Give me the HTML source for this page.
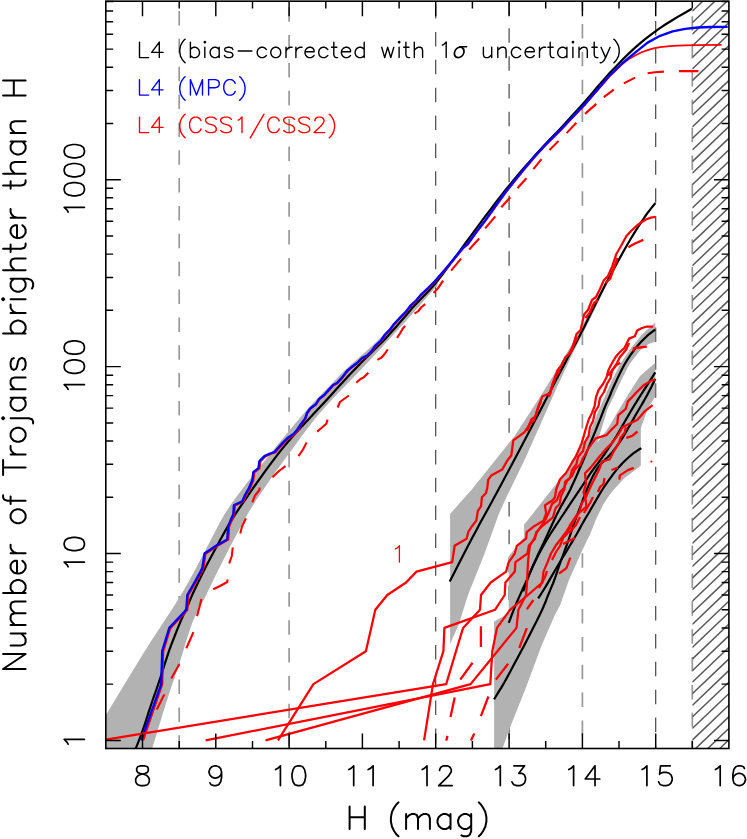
<!DOCTYPE html>
<html><head><meta charset="utf-8"><title>Trojans cumulative H distribution</title>
<style>html,body{margin:0;padding:0;background:#fff;font-family:"Liberation Sans",sans-serif}svg{display:block}</style></head><body>
<svg width="747" height="839" viewBox="0 0 747 839">
<rect width="747" height="839" fill="#fff"/>
<defs><clipPath id="pc"><rect x="105.8" y="1.2" width="623.1" height="747.3"/></clipPath>
<clipPath id="hc"><rect x="692.3" y="1.2" width="36.7" height="747.3"/></clipPath></defs>
<line x1="179.2" y1="1.2" x2="179.2" y2="748.5" stroke="#999" stroke-width="1.7" stroke-dasharray="14.5 13.36" stroke-dashoffset="18.12"/>
<line x1="289.1" y1="1.2" x2="289.1" y2="748.5" stroke="#999" stroke-width="1.7" stroke-dasharray="14.5 13.36" stroke-dashoffset="21.82"/>
<line x1="692.3" y1="1.2" x2="692.3" y2="748.5" stroke="#999" stroke-width="1.7" stroke-dasharray="14.5 13.36" stroke-dashoffset="12.80"/>
<line x1="435.7" y1="1.2" x2="435.7" y2="748.5" stroke="#404040" stroke-width="1.15" stroke-dasharray="14.5 13.36" stroke-dashoffset="24.94"/>
<line x1="509.1" y1="1.2" x2="509.1" y2="748.5" stroke="#404040" stroke-width="1.15" stroke-dasharray="14.5 13.36" stroke-dashoffset="0.78"/>
<line x1="582.4" y1="1.2" x2="582.4" y2="748.5" stroke="#999" stroke-width="1.7" stroke-dasharray="14.5 13.36" stroke-dashoffset="5.08"/>
<line x1="655.7" y1="1.2" x2="655.7" y2="748.5" stroke="#404040" stroke-width="1.15" stroke-dasharray="14.5 13.36" stroke-dashoffset="8.04"/>
<g clip-path="url(#pc)" fill="#b2b2b2" stroke="none">
<path d="M100 724.5 L100.4 724 L100.7 723.5 L102.2 721.1 L106 714.9 L113 703.3 L122.5 687.6 L132.9 670.4 L143 654 L152.8 638.6 L163 623 L172.8 607.9 L181.5 594 L188.7 581.5 L195 570 L200.6 559.2 L206 549 L211.1 539.3 L215.7 530.4 L220.2 521.8 L225 513.6 L230.2 505.6 L235.5 498.1 L241 490.7 L246.4 483.6 L251.8 476.7 L257.1 470 L262.5 463.4 L267.9 456.8 L273.3 450.1 L278.6 443.5 L284 436.9 L289.3 430.5 L294.6 424.2 L299.8 417.9 L305.1 411.9 L310.2 406.1 L315.4 400.5 L320.6 395.2 L325.6 390.1 L330.2 385.4 L334.1 381.2 L337.6 377.5 L341 373.9 L345 370 L349.7 365.7 L354.8 361.2 L360.1 356.6 L365.3 352 L370.3 347.4 L375.3 342.8 L380.2 338 L385.2 333 L390 327.9 L394.7 322.7 L399.7 317.2 L405.5 311 L413.1 303.3 L422 294.4 L430.3 286.2 L436 280.5 L438 284.5 L432.3 291 L424.3 300.3 L414.9 310.9 L405.5 321.5 L395.9 332.1 L385.6 343.3 L375.2 354.5 L365.3 365 L355.8 374.9 L346.5 384.5 L337.8 393.5 L330.2 401.5 L324.2 408.2 L319.3 413.8 L314.9 419.1 L310.2 425 L305 431.8 L299.6 439 L294.4 446.3 L289.3 453.2 L284.6 459.6 L280.1 465.7 L275.7 471.8 L271.1 478.3 L266.3 485.2 L261.4 492.4 L256.5 499.7 L251.8 507.2 L247.3 514.8 L243 522.6 L238.7 530.5 L234.5 538.4 L230.2 546.5 L226 554.8 L221.9 562.9 L218 570.6 L214.5 577.8 L211.2 584.5 L208.1 591.1 L205 597.5 L201.9 603.5 L198.8 609.1 L195.7 615 L192.6 622.1 L189.6 630.6 L186.6 640.1 L183.5 650.2 L180.3 660.3 L176.9 670.5 L173.4 680.9 L169.8 691.5 L166.3 702.4 L162.5 714.6 L158.5 727.7 L154.9 739.7 L152.2 748.6 L151.9 753.4 L153.3 755.2 L153.6 755.6 L150 756 L139.7 756.5 L124.9 756.5 L110.1 756.2 L100 756Z"/>
<path d="M450.1 514.1 L464.1 498.1 L471.4 490 L490.2 466.5 L514.3 436.4 L540.4 396.3 L560.5 364.1 L576.5 336 L596 300 L615 265 L615 268 L597 305 L580.6 338 L570.5 358.1 L556.5 388.2 L540.4 424.4 L524.3 460.5 L507 496 L498.8 514.1 L484.3 554.3 L468.2 594.5 L458.6 625 L450.1 644Z"/>
<path d="M494.1 756 L494.1 621.5 L508.7 613.3 L508.7 556.2 L524.1 537 L524.1 524.8 L543.5 500 L557 483 L569.5 467 L582.5 444 L590.2 432 L597.8 412.5 L604.6 397 L611.2 382 L620 364.3 L631 348 L642 334.5 L655.3 322.5 L655.3 341.8 L650 343.5 L645 346 L640.4 350 L629.1 364.8 L619 385 L614.5 395 L607.5 409 L601 430.4 L597.3 442.7 L608.6 427.2 L618.2 411.1 L627.9 395 L640 376 L655.3 362.7 L655.3 396.5 L648 408 L640.8 428.2 L640.8 465.8 L632.2 472.2 L624 478.5 L611.2 492.5 L603.7 503.7 L596.2 518.7 L590.6 533 L581 553 L569 580 L560 605.6 L554.9 615 L541.8 645 L525 690 L510 727.4 L502.5 748.6 L501 756Z"/>
</g>
<g clip-path="url(#hc)" stroke="#5a5a5a" stroke-width="1.5" fill="none">
<path d="M692.3 809.5 L730 773.6M692.3 798 L730 762M692.3 786.4 L730 750.4M692.3 774.8 L730 738.8M692.3 763.2 L730 727.3M692.3 751.7 L730 715.7M692.3 740.1 L730 704.1M692.3 728.5 L730 692.6M692.3 717 L730 681M692.3 705.4 L730 669.4M692.3 693.8 L730 657.9M692.3 682.2 L730 646.3M692.3 670.7 L730 634.7M692.3 659.1 L730 623.1M692.3 647.5 L730 611.6M692.3 636 L730 600M692.3 624.4 L730 588.4M692.3 612.8 L730 576.9M692.3 601.3 L730 565.3M692.3 589.7 L730 553.7M692.3 578.1 L730 542.2M692.3 566.5 L730 530.6M692.3 555 L730 519M692.3 543.4 L730 507.4M692.3 531.8 L730 495.9M692.3 520.3 L730 484.3M692.3 508.7 L730 472.7M692.3 497.1 L730 461.2M692.3 485.6 L730 449.6M692.3 474 L730 438M692.3 462.4 L730 426.5M692.3 450.9 L730 414.9M692.3 439.3 L730 403.3M692.3 427.7 L730 391.7M692.3 416.1 L730 380.2M692.3 404.6 L730 368.6M692.3 393 L730 357M692.3 381.4 L730 345.5M692.3 369.9 L730 333.9M692.3 358.3 L730 322.3M692.3 346.7 L730 310.8M692.3 335.2 L730 299.2M692.3 323.6 L730 287.6M692.3 312 L730 276M692.3 300.4 L730 264.5M692.3 288.9 L730 252.9M692.3 277.3 L730 241.3M692.3 265.7 L730 229.8M692.3 254.2 L730 218.2M692.3 242.6 L730 206.6M692.3 231 L730 195.1M692.3 219.5 L730 183.5M692.3 207.9 L730 171.9M692.3 196.3 L730 160.3M692.3 184.7 L730 148.8M692.3 173.2 L730 137.2M692.3 161.6 L730 125.6M692.3 150 L730 114.1M692.3 138.5 L730 102.5M692.3 126.9 L730 90.9M692.3 115.3 L730 79.4M692.3 103.8 L730 67.8M692.3 92.2 L730 56.2M692.3 80.6 L730 44.6M692.3 69 L730 33.1M692.3 57.5 L730 21.5M692.3 45.9 L730 9.9M692.3 34.3 L730 -1.6M692.3 22.8 L730 -13.2M692.3 11.2 L730 -24.8M692.3 -0.4 L730 -36.3M692.3 -12 L730 -47.9M692.3 -23.5 L730 -59.5M692.3 -35.1 L730 -71.1"/></g>
<g clip-path="url(#pc)">
<path d="M133.5 754 L133.8 753.3 L134.2 752.4 L134.8 751 L135.7 748.6 L137.1 745.2 L138.8 740.9 L140.7 735.9 L142.6 730.6 L144.6 724.8 L146.7 718.3 L148.8 711.6 L151 705 L153.2 698.5 L155.6 691.9 L157.9 685.2 L160.2 678.4 L162.4 671.5 L164.6 664.4 L166.9 657.3 L169.3 650.2 L172 642.9 L174.9 635.5 L177.7 628.4 L180.3 622.1 L182.6 616.8 L184.7 612.2 L186.6 608.1 L188.4 604.1 L189.8 600.7 L191 597.9 L192.3 594.7 L194.5 590 L197.6 583.5 L201.5 575.6 L205.7 567.1 L210.2 558.5 L214.9 549.7 L219.9 540.4 L225.1 531.1 L230.2 522.4 L235.2 514.4 L240.2 506.8 L245.3 499.5 L250.3 492.2 L255.3 485 L260.4 477.8 L265.4 470.9 L270.4 464.1 L275.1 457.9 L279.5 452.1 L284.4 446.1 L290.5 439 L298.5 430.1 L307.9 420 L317.2 410.1 L325.2 401.5 L331.2 394.9 L336 389.6 L340.4 384.7 L345 379.7 L350 374.3 L355.1 369 L360.2 363.7 L365.3 358.5 L370.3 353.6 L375.3 348.8 L380.2 344 L385.2 338.9 L390.5 333.1 L396 326.9 L401.2 320.9 L405.5 316 L408.3 312.8 L410 310.7 L411.7 308.6 L414.6 305.4 L418.9 301 L424 295.8 L429.8 289.8 L436 282.7 L443 273.8 L450.7 263.4 L458.4 252.8 L465.2 243.5 L470.8 235.9 L475.8 229.1 L480.4 222.8 L485.2 216.4 L490.2 209.8 L495.2 203.2 L500.3 196.7 L505.3 190.3 L510.3 184.1 L515.4 178 L520.4 172 L525.4 166.2 L530.6 160.4 L535.8 154.6 L540.9 149.1 L545.5 144.1 L549.3 140.1 L552.4 136.8 L555.8 133.4 L560 128.9 L565.5 122.9 L571.8 116 L578.5 108.7 L585 101.4 L591.3 94.2 L597.5 86.8 L603.8 79.6 L610.1 72.6 L616.5 65.9 L622.9 59.3 L629.2 53.1 L635.1 47.6 L640.6 42.8 L645.7 38.6 L650.7 34.8 L655.4 31.3 L659.9 28.1 L664.1 25.3 L668.2 22.7 L672.6 20 L677.7 16.9 L683.3 13.7 L688.4 10.8 L691.9 8.8" fill="none" stroke="#000" stroke-width="2.2" stroke-linejoin="round" />
<path d="M143.2 740.4 L162.4 684.5 L163.4 651.6 L170.5 628.3 L187.5 610.2 L188.5 595.4 L195.7 582.9 L201.7 572 L203.5 568.4 L204.5 562.5 L205.7 553.9 L217.2 546.2 L228.4 539.8 L229 532.6 L229.4 526.8 L231.7 521 L234.5 514.7 L235.1 505.7 L243.5 501.7 L246.2 495.4 L250.2 488.4 L253.5 480.6 L254.5 472.6 L259.6 468.6 L260.6 461.5 L265.6 456.5 L271.2 453.9 L275.6 452.5 L279.2 448.4 L283.6 443.5 L288.7 438.4 L294.7 434.4 L298.2 430.4 L301.5 424.4 L305.6 419 L307.5 413.4 L310.6 408.9 L316.5 404.4 L319.5 399.4 L324.5 395.4 L328.7 390.8 L333.5 385.4 L337.5 383.4 L342.7 377.8 L347.5 371.4 L351.8 367.7 L357.5 363.4 L362.5 358.4 L367.5 355.9 L371.8 351.7 L376.5 345.4 L381.5 340.9 L385.5 334.9 L389.9 330.6 L394.5 324.4 L401 317.5 L406.5 311.9 L411.5 305.4 L416.5 300.9 L422 294.5 L428.5 288.4 L435.5 281.4 L445.5 269.9 L455.5 257.9 L463.7 247.9 L467.7 244.9 L475.5 233.9 L485.7 220.8 L495.5 206.9 L505.8 192.7 L515.5 180.4 L525.9 167.6 L535.5 156.4 L546 145 L560.5 130.6 L572.5 117.9 L585.5 104.3 L597.5 90.4 L610.5 75.5 L622.6 63.8 L628.5 59.3 L635.1 55.6 L641 52.5 L647.6 50.1 L653.5 48.3 L660.1 47.1 L672.6 45.8 L685.2 45.3 L697.7 45.1 L721.5 44.8" fill="none" stroke="#f00" stroke-width="1.75" stroke-linejoin="round" />
<path d="M143.8 739 L146.6 726.5M156.8 709.5 L160 703 L164.3 694.4M171.3 678.4 L175.5 671 L179.3 664.3M186.3 648.2 L190 640 L193.4 632.2M197 616.1 L199.5 607 L201.4 599M213.2 589.2 L220 586 L227.2 582 L227.6 579.5M229.2 563.5 L231.8 556 L232.7 547.5M240.3 533.4 L242 526.5 L245.9 518.4M252.3 502.3 L255 495.5 L259.4 490 L259.6 487.5M272.4 477.2 L279 471 L285.5 466.1M298.5 456.1 L303 449.5 L306.6 442.6M317.1 431.6 L322 427.5 L326.5 423.5 L327.6 419.6M337.6 407.5 L340 402 L344 399 L348.9 395.5M356.3 382.8 L360.5 379 L363.5 377.5 L368.3 372.8M377.4 359.9 L381.5 357.5 L385 353.5 L387.8 349.3M397 337.8 L400 333.5 L402.5 329 L405.1 325.8M414.5 313.7 L418.5 311 L421.5 307 L425.2 304.1M433.6 293 L438.1 288.1 L443.1 280.6M451.1 270.6 L461.1 258.6M469.2 249.5 L479.2 238.5M485.2 228.4 L495.3 216.4M501.3 207.3 L510.3 197.3M517.4 188.3 L526.4 178.2M533.4 169.2 L541.5 159.2M549.5 150.1 L558.5 141.1M566.6 133.1 L576.3 122.7M585 113.9 L596.3 103.9M603.8 97.1 L613.8 89.6M623.8 83.4 L635.1 77.6M647.6 73.3 L655 72.2 L663.9 71.6M678.9 71.1 L698.4 71.1" fill="none" stroke="#f00" stroke-width="2.1" stroke-linejoin="round"/>
<path d="M141.2 740.4 L161.2 684.1 L162.2 651.2 L169.3 627.9 L186.3 609.8 L187.3 595 L194.5 582.5 L200.5 571.6 L202.3 568 L203.3 562.1 L204.5 553.5 L216 545.8 L227.2 539.4 L227.8 532.2 L228.2 526.4 L230.5 520.6 L233.3 514.3 L233.9 505.3 L242.3 501.3 L245 495 L249 488 L252.3 480.2 L253.3 472.2 L258.4 468.2 L259.4 461.1 L264.4 456.1 L270 453.5 L274.4 452.1 L278 448 L282.4 443.1 L287.5 438 L293.5 434 L297 430 L301 424 L305.1 418.6 L307 413 L310.1 408.5 L316 404 L319 399 L324 395 L328.2 390.4 L333 385 L337 383 L342.2 377.4 L347 371 L351.3 367.3 L357 363 L362 358 L367 355.5 L371.3 351.3 L376 345 L381 340.5 L385 334.5 L389.4 330.2 L394 324 L400.5 317.1 L406 311.5 L411 305 L416 300.5 L421.5 294.1 L428 288 L435 281 L445 269.5 L455 257.5 L463.2 247.5 L467.2 244.5 L475 233.5 L485.2 220.4 L495 206.5 L505.3 192.3 L515 180 L525.4 167.2 L535 156 L545.5 144.6 L560 130.2 L572 117.5 L585 103.9 L597 90 L610 75.1 L622 63.5 L635.1 52.6 L647.6 42.6 L660.1 35.8 L672.6 31.3 L685.2 28.8 L697.7 27.5 L710.2 27 L727.7 26.8" fill="none" stroke="#00f" stroke-width="2.35" stroke-linejoin="round" />
<path d="M449.7 581.6 L453.1 575 L457.9 565.4 L463.3 554.9 L468.2 545.5 L472.4 537.5 L476.5 529.9 L480.4 522.6 L484.3 515.5 L487.9 509 L491.2 502.9 L494.7 496.5 L498.8 489 L503.7 479.8 L509.2 469.5 L514.9 458.8 L520.3 448.5 L525.4 438.8 L530.4 429.3 L535.4 419.8 L540.4 410.3 L545.4 400.6 L550.5 390.9 L555.5 381.1 L560.5 371.5 L565.7 361.8 L570.9 352.1 L576 342.7 L580.6 334 L584.6 326.2 L588.1 319 L591.5 312.1 L595 305 L598.6 297.8 L602.2 290.7 L606 283.3 L610.2 275.5 L615 266.7 L620.3 257.1 L625.5 247.7 L630.3 239.5 L634.5 232.6 L638.3 226.6 L641.8 221.3 L645 216.5 L648.1 212.2 L651.1 208.4 L653.6 205.3 L655.4 203.1" fill="none" stroke="#000" stroke-width="2.2" stroke-linejoin="round" />
<path d="M508.8 622.8 L510.1 619.4 L511.9 614.5 L514.1 608.8 L516.5 603 L519.2 596.9 L522.2 590.2 L525.3 583.4 L528.2 577 L530.9 570.8 L533.5 564.8 L536 559.2 L538.2 554.2 L539.9 550.6 L541.2 547.9 L542.6 545.1 L544.5 541 L547.3 534.9 L550.7 527.5 L554.2 520 L557.3 513.4 L560.1 508.1 L562.6 503.6 L565 499.4 L567.2 495.5 L569.1 491.9 L570.7 488.7 L572.1 485.5 L573.7 482.2 L575.4 478.5 L577.1 474.6 L578.7 470.8 L580.3 467.2 L581.6 464.2 L582.7 461.7 L583.9 458.9 L585.5 455 L587.7 449.7 L590.4 443.3 L593.1 436.7 L595.7 430.4 L598 424.5 L600.3 418.8 L602.4 413.3 L604.3 408.5 L606 404.4 L607.6 400.9 L609 397.8 L610.2 395 L611 392.9 L611.5 391.5 L612.2 389.9 L613.5 387 L615.7 382.3 L618.4 376.4 L621.4 370.3 L624.3 364.8 L627.1 360.1 L629.9 355.9 L632.8 351.9 L635.6 348.2 L638.5 344.7 L641.4 341.6 L644.2 338.7 L646.8 336.2 L649.3 334 L651.8 332.2 L653.8 330.7 L655.3 329.7" fill="none" stroke="#000" stroke-width="2.2" stroke-linejoin="round" />
<path d="M523.2 591.4 L524.7 587.2 L526.8 581.1 L529.4 574.2 L532.2 567.5 L535.4 560.9 L538.9 554 L542.6 547.2 L546.1 541 L549.4 535.5 L552.7 530.4 L555.8 525.7 L558.9 521 L561.8 516.5 L564.6 512.3 L567.4 508.1 L570.2 503.8 L573.2 499.3 L576.4 494.7 L579.4 490.2 L582.2 486 L584.6 482.3 L586.8 478.9 L588.9 475.7 L591 472.5 L593.2 469.4 L595.4 466.5 L597.7 463.6 L600 460.5 L602.4 457.1 L604.9 453.5 L607.4 449.9 L609.7 446.5 L611.7 443.4 L613.6 440.5 L615.4 437.7 L617.2 434.7 L619.1 431.6 L621 428.3 L622.8 425.1 L624.7 421.8 L626.5 418.6 L628.4 415.4 L630.2 412.2 L632.2 408.9 L634.1 405.7 L636.1 402.6 L638.2 399.1 L640.8 395 L644.4 389.4 L648.6 382.8 L652.6 376.6 L655.3 372.3" fill="none" stroke="#000" stroke-width="2.2" stroke-linejoin="round" />
<path d="M494 699.3 L495.8 696.5 L498.3 692.4 L501.3 687.6 L504.3 682.5 L507.4 676.9 L510.7 670.8 L514.1 664.3 L517.5 658 L520.8 651.7 L524.2 645.4 L527.5 639.1 L530.6 633 L533.6 627.1 L536.6 621.3 L539.3 615.7 L541.8 610.5 L543.9 605.7 L545.8 601.2 L547.4 596.9 L549 593 L550.4 589.6 L551.7 586.5 L553 583.5 L554.3 580 L555.8 575.9 L557.2 571.5 L558.8 566.8 L560.5 562 L562.4 556.9 L564.4 551.4 L566.4 546 L568.2 541 L569.7 536.5 L571.1 532.3 L572.4 528.4 L573.7 524.4 L575.2 520.4 L576.6 516.5 L578.1 512.7 L579.5 509 L580.8 505.6 L582 502.3 L583.1 499.1 L584.3 496 L585.5 492.9 L586.8 489.8 L588 486.9 L589.3 484 L590.5 481.2 L591.7 478.6 L593 476 L594.3 473.5 L595.7 471.2 L597.1 468.9 L598.7 466.7 L600.5 464.5 L602.7 462.1 L605.2 459.6 L607.6 457.3 L609.7 455.1 L611.2 453.4 L612.5 451.9 L613.6 450.5 L615 448.6 L616.7 446.3 L618.6 443.6 L620.6 440.8 L622.5 437.9 L624.3 434.9 L626.2 431.7 L628 428.4 L630 425 L632.1 421.4 L634.2 417.6 L636.4 413.8 L638.6 410 L640.8 406.3 L642.9 402.6 L645.1 398.8 L647.2 395 L649.4 390.7 L651.8 386 L653.9 381.7 L655.3 378.8" fill="none" stroke="#000" stroke-width="2.2" stroke-linejoin="round" />
<path d="M538.2 598.4 L539.5 596.3 L541.5 593.3 L543.7 589.7 L546.1 585.8 L548.7 581.4 L551.6 576.4 L554.5 571.3 L557.3 566.5 L559.8 562.3 L562.2 558.2 L564.6 554.4 L567 550.4 L569.5 546.3 L572 542.1 L574.4 538 L576.6 534.3 L578.4 531 L580 528.1 L581.5 525.3 L583.1 522.5 L584.7 519.6 L586.4 516.8 L588.1 514 L589.7 511.2 L591.3 508.4 L592.9 505.7 L594.5 502.9 L596.2 500 L598 496.9 L599.9 493.7 L601.8 490.5 L603.7 487.5 L605.5 484.8 L607.3 482.3 L609 479.9 L610.7 477.6 L612.3 475.3 L613.9 473.2 L615.5 471.1 L617.2 469 L619 466.9 L620.8 464.9 L622.7 463 L624.7 461 L626.8 459 L629 457 L631.2 455.1 L633.3 453.4 L635.5 451.8 L637.8 450.3 L639.9 449 L641.3 448.1" fill="none" stroke="#000" stroke-width="2.2" stroke-linejoin="round" />
<path d="M278 740.4 L313.4 684.1 L365.9 651.2 L371.2 627.9 L375.3 609.8 L387.3 595 L406.1 582.5 L416.5 571.6 L452.2 562.1 L453.5 553.5 L454.6 545.8 L466.6 538.7 L468.2 532.2 L472 526.2 L476.3 520.6 L477.9 510.9 L481.1 506.1 L481.9 497.2 L485.9 493.2 L486.7 490 L487.2 488.6 L488.2 479.6 L491.2 475.6 L502.2 469.6 L507.3 460.5 L511.3 455.5 L513.3 440.4 L524.3 432.4 L528.4 426.4 L531.4 419.4 L535.4 416.3 L538.4 406.3 L542.4 396.3 L550.4 393.3 L552.4 384.2 L557.5 370.2 L561 366 L565.5 357.1 L569 354 L572.5 347.1 L576.5 334 L580.6 330 L584.1 314.6 L588 310 L592 300 L596 297 L600.2 288.5 L604 280 L608 276 L612.2 266.4 L616.2 254.3 L621 246 L626.3 236.3 L631 231 L636.3 226.2 L641 222.5 L646.3 219.2 L651 217.6 L655.4 216.8" fill="none" stroke="#f00" stroke-width="2.25" stroke-linejoin="round" />
<path d="M105.8 739.6 L446.2 684.1 L456 651.2 L463.1 627.9 L480 609.8 L481 595 L490.7 582.5 L506.1 571.6 L508.7 562.1 L514.8 553.5 L516.8 545.8 L526.1 538.7 L526.8 532.2 L534.2 526.2 L543.5 520.6 L546.2 513.4 L544.9 505.4 L552.9 500 L555.1 497 L556 490 L559.9 479.5 L566 473 L571.9 462.7 L576 456 L581.6 443.4 L584.1 434.9 L586 428 L588.9 419 L592 413 L594.6 406.1 L596 397 L598.6 390 L603 384 L606.6 377.2 L608.2 370.7 L611 365 L615.5 357.1 L620 352 L624.3 348.2 L629.1 338.6 L634.8 336.2 L637.2 330.5 L642 328 L646.8 326.5 L652.9 326.5" fill="none" stroke="#f00" stroke-width="2.25" stroke-linejoin="round" />
<path d="M424.1 740.4 L433 684.1 L443.4 651.2 L444.4 627.9 L495 609.8 L504.7 595 L505.4 582.5 L514.8 571.6 L515.4 562.1 L527.5 553.5 L528.8 545.8 L535 538.7 L536.2 532.2 L542.2 526.2 L549 520.6 L552.9 517.4 L555.6 508 L559.6 504 L561 496 L564.5 489 L565 482 L570 478 L572 470 L576.5 464 L578 457 L583 451 L585 442 L588.5 436 L590 427 L593 421 L595 412 L598.5 406 L600 398 L604 392 L607 384 L610.5 378 L612 371 L617 363 L620 357 L626 350 L629 343" fill="none" stroke="#f00" stroke-width="2.25" stroke-linejoin="round" />
<path d="M265.5 740.4 L470.6 684.1 L497.4 651.2 L516.5 627.9 L518.4 609.8 L526.1 595 L527 582.5 L527.5 571.6 L528 562.1 L528.8 553.5 L530 545.8 L534 538.7 L537 532.2 L541 526.2 L545 520.6 L549 512 L552 504 L557 500 L560 492 L564 488 L567 481 L572 476 L575 469 L580 465 L583 458 L585 455 L588.2 448.6 L595.7 438.4 L606.4 435.2 L610.7 430.4 L617.2 424 L618.2 415.4 L625.8 408.9 L627.9 401.4 L632.2 397.1 L637.2 391.6 L643.6 385.2 L651.6 380.4 L655.3 379.9" fill="none" stroke="#f00" stroke-width="2.25" stroke-linejoin="round" />
<path d="M205.6 740.4 L490.3 684.1 L492.3 651.2 L497 627.9 L510 609.8 L528 595 L542.2 582.5 L543.5 571.6 L547.6 562.1 L551 553.5 L555.6 545.8 L561 538.7 L566 532.2 L569.5 526.2 L573 520.6 L577 514.7 L586.4 506.7 L585.7 500 L583.5 492 L586 484 L585 473.3 L590.4 467.9 L598.9 457.2 L606.4 448.6 L611.8 443.3 L618.2 434.7 L622.5 427.2 L629 424 L637.5 419.7 L645 411.1 L652.6 405.2" fill="none" stroke="#f00" stroke-width="2.25" stroke-linejoin="round" />
<path d="M552 560 L556 552 L560 546 L563 538 L567 534 L571 526 L575 519 L579 513 L582 503 L586 497 L589 490 L591.4 485 L594.7 478.6 L598.9 470.1 L602.2 461.5 L609.7 459.3 L612.9 452.9 L619.3 442.2 L620.4 437.9 L624.7 432.5 L625.8 427.2" fill="none" stroke="#f00" stroke-width="2.25" stroke-linejoin="round" />
<path d="M527 431 L530 424 L534 420.5 L537 411 L541 401M549 397 L551 389 L556 376 L560 370M567 356 L571 352 L574.5 343 L578 337M585.5 318 L589.5 313 L594 303 L598 300M605.5 283 L610 279 L614 268 L617.5 258M628.3 247.3 L635 243.5 L643.3 239.9M608.2 375.6 L613 369 L617 364.5 L620.3 363M633.2 351.4 L634 348.2 L640 347.5 L646.8 346.6M446.2 740.6 L447.5 735.9M450.5 717.1 L454.7 697.5M460.3 679.6 L472.5 662.8M480.9 646.9 L480.9 626.2M471 740.6 L474.3 733.4M480.9 716.2 L488.4 696.5M495.9 679.6 L508.1 663.7M519.3 647.8 L526.8 628.1M526.8 609.4 L533.4 600M539 588 L545 577 L547 571M558.9 573.6 L566.3 568.3 L570.3 557.6M563 544 L569 541 L575 538M569 533 L576 525 L580 517M584 513 L590 503 L593 497M598 492 L600 487 L603.5 484 L604.5 478M611.5 470 L618 467.5M619.3 479.7 L619.9 475.4 L627.9 470.1 L633.8 467.9M626.3 437.9 L632.2 435.8 L637.5 431.5" fill="none" stroke="#f00" stroke-width="2.3" stroke-linejoin="round"/>
<circle cx="651.4" cy="461.6" r="1.1" fill="#f00"/>
</g>
<rect x="105.8" y="1.2" width="623.1" height="747.3" fill="none" stroke="#000" stroke-width="1.6"/>
<path d="M142.5 1.2 v15.0 M142.5 748.5 v-15.0M179.2 1.2 v7.4 M179.2 748.5 v-7.4M215.8 1.2 v15.0 M215.8 748.5 v-15.0M252.5 1.2 v7.4 M252.5 748.5 v-7.4M289.1 1.2 v15.0 M289.1 748.5 v-15.0M325.8 1.2 v7.4 M325.8 748.5 v-7.4M362.4 1.2 v15.0 M362.4 748.5 v-15.0M399.1 1.2 v7.4 M399.1 748.5 v-7.4M435.7 1.2 v15.0 M435.7 748.5 v-15.0M472.4 1.2 v7.4 M472.4 748.5 v-7.4M509.1 1.2 v15.0 M509.1 748.5 v-15.0M545.7 1.2 v7.4 M545.7 748.5 v-7.4M582.4 1.2 v15.0 M582.4 748.5 v-15.0M619 1.2 v7.4 M619 748.5 v-7.4M655.7 1.2 v15.0 M655.7 748.5 v-15.0M692.3 1.2 v7.4 M692.3 748.5 v-7.4M105.8 740.4 h15.0 M729 740.4 h-15.0M105.8 684.1 h7.4 M729 684.1 h-7.4M105.8 651.2 h7.4 M729 651.2 h-7.4M105.8 627.9 h7.4 M729 627.9 h-7.4M105.8 609.8 h7.4 M729 609.8 h-7.4M105.8 595 h7.4 M729 595 h-7.4M105.8 582.5 h7.4 M729 582.5 h-7.4M105.8 571.6 h7.4 M729 571.6 h-7.4M105.8 562.1 h7.4 M729 562.1 h-7.4M105.8 553.5 h15.0 M729 553.5 h-15.0M105.8 497.2 h7.4 M729 497.2 h-7.4M105.8 464.3 h7.4 M729 464.3 h-7.4M105.8 441 h7.4 M729 441 h-7.4M105.8 422.9 h7.4 M729 422.9 h-7.4M105.8 408.1 h7.4 M729 408.1 h-7.4M105.8 395.6 h7.4 M729 395.6 h-7.4M105.8 384.7 h7.4 M729 384.7 h-7.4M105.8 375.2 h7.4 M729 375.2 h-7.4M105.8 366.6 h15.0 M729 366.6 h-15.0M105.8 310.3 h7.4 M729 310.3 h-7.4M105.8 277.4 h7.4 M729 277.4 h-7.4M105.8 254.1 h7.4 M729 254.1 h-7.4M105.8 236 h7.4 M729 236 h-7.4M105.8 221.2 h7.4 M729 221.2 h-7.4M105.8 208.7 h7.4 M729 208.7 h-7.4M105.8 197.8 h7.4 M729 197.8 h-7.4M105.8 188.3 h7.4 M729 188.3 h-7.4M105.8 179.7 h15.0 M729 179.7 h-15.0M105.8 123.4 h7.4 M729 123.4 h-7.4M105.8 90.5 h7.4 M729 90.5 h-7.4M105.8 67.2 h7.4 M729 67.2 h-7.4M105.8 49.1 h7.4 M729 49.1 h-7.4M105.8 34.3 h7.4 M729 34.3 h-7.4M105.8 21.8 h7.4 M729 21.8 h-7.4M105.8 10.9 h7.4 M729 10.9 h-7.4M105.8 1.4 h7.4 M729 1.4 h-7.4" stroke="#000" stroke-width="1.45" fill="none"/>
<path d="M140.6 765.8 L137.7 766.7 L136.7 768.6 L136.7 770.5 L137.7 772.4 L139.6 773.3 L143.5 774.3 L146.4 775.2 L148.3 777.1 L149.3 779 L149.3 781.8 L148.3 783.7 L147.4 784.7 L144.4 785.6 L140.6 785.6 L137.7 784.7 L136.7 783.7 L135.7 781.8 L135.7 779 L136.7 777.1 L138.6 775.2 L141.5 774.3 L145.4 773.3 L147.4 772.4 L148.3 770.5 L148.3 768.6 L147.4 766.7 L144.4 765.8 L140.6 765.8" fill="none" stroke="#000" stroke-width="1.7" stroke-linecap="round" stroke-linejoin="round"/>
<path d="M221.6 772.4 L220.7 775.2 L218.7 777.1 L215.8 778.1 L214.8 778.1 L211.9 777.1 L210 775.2 L209 772.4 L209 771.5 L210 768.6 L211.9 766.7 L214.8 765.8 L215.8 765.8 L218.7 766.7 L220.7 768.6 L221.6 772.4 L221.6 777.1 L220.7 781.8 L218.7 784.7 L215.8 785.6 L213.9 785.6 L211 784.7 L210 782.8" fill="none" stroke="#000" stroke-width="1.7" stroke-linecap="round" stroke-linejoin="round"/>
<path d="M275.5 769.6 L277.5 768.6 L280.4 765.8 L280.4 785.6M297.9 765.8 L294.9 766.7 L293 769.6 L292 774.3 L292 777.1 L293 781.8 L294.9 784.7 L297.9 785.6 L299.8 785.6 L302.7 784.7 L304.6 781.8 L305.6 777.1 L305.6 774.3 L304.6 769.6 L302.7 766.7 L299.8 765.8 L297.9 765.8" fill="none" stroke="#000" stroke-width="1.7" stroke-linecap="round" stroke-linejoin="round"/>
<path d="M348.9 769.6 L350.8 768.6 L353.7 765.8 L353.7 785.6M368.2 769.6 L370.2 768.6 L373.1 765.8 L373.1 785.6" fill="none" stroke="#000" stroke-width="1.7" stroke-linecap="round" stroke-linejoin="round"/>
<path d="M422.2 769.6 L424.1 768.6 L427 765.8 L427 785.6M439.6 770.5 L439.6 769.6 L440.6 767.7 L441.6 766.7 L443.5 765.8 L447.4 765.8 L449.3 766.7 L450.3 767.7 L451.3 769.6 L451.3 771.5 L450.3 773.3 L448.4 776.2 L438.7 785.6 L452.2 785.6" fill="none" stroke="#000" stroke-width="1.7" stroke-linecap="round" stroke-linejoin="round"/>
<path d="M495.5 769.6 L497.4 768.6 L500.3 765.8 L500.3 785.6M513.9 765.8 L524.6 765.8 L518.8 773.3 L521.7 773.3 L523.6 774.3 L524.6 775.2 L525.5 778.1 L525.5 779.9 L524.6 782.8 L522.6 784.7 L519.7 785.6 L516.8 785.6 L513.9 784.7 L512.9 783.7 L512 781.8" fill="none" stroke="#000" stroke-width="1.7" stroke-linecap="round" stroke-linejoin="round"/>
<path d="M568.8 769.6 L570.7 768.6 L573.6 765.8 L573.6 785.6M595 765.8 L585.3 779 L599.8 779M595 765.8 L595 785.6" fill="none" stroke="#000" stroke-width="1.7" stroke-linecap="round" stroke-linejoin="round"/>
<path d="M642.1 769.6 L644 768.6 L646.9 765.8 L646.9 785.6M670.2 765.8 L660.5 765.8 L659.6 774.3 L660.5 773.3 L663.4 772.4 L666.3 772.4 L669.3 773.3 L671.2 775.2 L672.2 778.1 L672.2 779.9 L671.2 782.8 L669.3 784.7 L666.3 785.6 L663.4 785.6 L660.5 784.7 L659.6 783.7 L658.6 781.8" fill="none" stroke="#000" stroke-width="1.7" stroke-linecap="round" stroke-linejoin="round"/>
<path d="M715.4 769.6 L717.3 768.6 L720.2 765.8 L720.2 785.6M744.5 768.6 L743.5 766.7 L740.6 765.8 L738.7 765.8 L735.8 766.7 L733.8 769.6 L732.9 774.3 L732.9 779 L733.8 782.8 L735.8 784.7 L738.7 785.6 L739.7 785.6 L742.6 784.7 L744.5 782.8 L745.5 779.9 L745.5 779 L744.5 776.2 L742.6 774.3 L739.7 773.3 L738.7 773.3 L735.8 774.3 L733.8 776.2 L732.9 779" fill="none" stroke="#000" stroke-width="1.7" stroke-linecap="round" stroke-linejoin="round"/>
<path d="M68.1 744.2 L67.1 742.3 L64.2 739.4 L84.4 739.4" fill="none" stroke="#000" stroke-width="1.7" stroke-linecap="round" stroke-linejoin="round"/>
<path d="M68.1 566.8 L67.1 564.9 L64.2 562.1 L84.4 562.1M64.2 544.9 L65.2 547.8 L68.1 549.7 L72.9 550.6 L75.8 550.6 L80.6 549.7 L83.4 547.8 L84.4 544.9 L84.4 543 L83.4 540.2 L80.6 538.3 L75.8 537.3 L72.9 537.3 L68.1 538.3 L65.2 540.2 L64.2 543 L64.2 544.9" fill="none" stroke="#000" stroke-width="1.7" stroke-linecap="round" stroke-linejoin="round"/>
<path d="M68.1 389.4 L67.1 387.5 L64.2 384.7 L84.4 384.7M64.2 367.6 L65.2 370.4 L68.1 372.3 L72.9 373.3 L75.8 373.3 L80.6 372.3 L83.4 370.4 L84.4 367.6 L84.4 365.6 L83.4 362.8 L80.6 360.9 L75.8 359.9 L72.9 359.9 L68.1 360.9 L65.2 362.8 L64.2 365.6 L64.2 367.6M64.2 348.5 L65.2 351.4 L68.1 353.3 L72.9 354.2 L75.8 354.2 L80.6 353.3 L83.4 351.4 L84.4 348.5 L84.4 346.6 L83.4 343.8 L80.6 341.9 L75.8 340.9 L72.9 340.9 L68.1 341.9 L65.2 343.8 L64.2 346.6 L64.2 348.5" fill="none" stroke="#000" stroke-width="1.7" stroke-linecap="round" stroke-linejoin="round"/>
<path d="M68.1 212 L67.1 210.1 L64.2 207.3 L84.4 207.3M64.2 190.2 L65.2 193 L68.1 194.9 L72.9 195.9 L75.8 195.9 L80.6 194.9 L83.4 193 L84.4 190.2 L84.4 188.3 L83.4 185.4 L80.6 183.5 L75.8 182.6 L72.9 182.6 L68.1 183.5 L65.2 185.4 L64.2 188.3 L64.2 190.2M64.2 171.1 L65.2 174 L68.1 175.9 L72.9 176.8 L75.8 176.8 L80.6 175.9 L83.4 174 L84.4 171.1 L84.4 169.2 L83.4 166.4 L80.6 164.5 L75.8 163.5 L72.9 163.5 L68.1 164.5 L65.2 166.4 L64.2 169.2 L64.2 171.1M64.2 152.1 L65.2 155 L68.1 156.9 L72.9 157.8 L75.8 157.8 L80.6 156.9 L83.4 155 L84.4 152.1 L84.4 150.2 L83.4 147.4 L80.6 145.5 L75.8 144.5 L72.9 144.5 L68.1 145.5 L65.2 147.4 L64.2 150.2 L64.2 152.1" fill="none" stroke="#000" stroke-width="1.7" stroke-linecap="round" stroke-linejoin="round"/>
<path d="M349.6 806.6 L349.6 828.9M364.8 806.6 L364.8 828.9M349.6 817.2 L364.8 817.2M398.5 802.4 L396.3 804.5 L394.1 807.7 L392 811.9 L390.9 817.2 L390.9 821.5 L392 826.8 L394.1 831 L396.3 834.2 L398.5 836.3M406.1 814.1 L406.1 828.9M406.1 818.3 L409.3 815.1 L411.5 814.1 L414.7 814.1 L416.9 815.1 L418 818.3 L418 828.9M418 818.3 L421.2 815.1 L423.4 814.1 L426.7 814.1 L428.8 815.1 L429.9 818.3 L429.9 828.9M450.5 814.1 L450.5 828.9M450.5 817.2 L448.4 815.1 L446.2 814.1 L442.9 814.1 L440.8 815.1 L438.6 817.2 L437.5 820.4 L437.5 822.5 L438.6 825.7 L440.8 827.8 L442.9 828.9 L446.2 828.9 L448.4 827.8 L450.5 825.7M471.2 814.1 L471.2 831 L470.1 834.2 L469 835.3 L466.8 836.3 L463.6 836.3 L461.4 835.3M471.2 817.2 L469 815.1 L466.8 814.1 L463.6 814.1 L461.4 815.1 L459.2 817.2 L458.1 820.4 L458.1 822.5 L459.2 825.7 L461.4 827.8 L463.6 828.9 L466.8 828.9 L469 827.8 L471.2 825.7M478.8 802.4 L480.9 804.5 L483.1 807.7 L485.3 811.9 L486.4 817.2 L486.4 821.5 L485.3 826.8 L483.1 831 L480.9 834.2 L478.8 836.3" fill="none" stroke="#000" stroke-width="2.0" stroke-linecap="round" stroke-linejoin="round"/>
<path d="M3.1 669 L25.6 669M3.1 669 L25.6 654M3.1 654 L25.6 654M10.6 645.4 L21.3 645.4 L24.5 644.4 L25.6 642.2 L25.6 639 L24.5 636.9 L21.3 633.6M10.6 633.6 L25.6 633.6M10.6 625.1 L25.6 625.1M14.9 625.1 L11.7 621.8 L10.6 619.7 L10.6 616.5 L11.7 614.3 L14.9 613.3 L25.6 613.3M14.9 613.3 L11.7 610.1 L10.6 607.9 L10.6 604.7 L11.7 602.5 L14.9 601.5 L25.6 601.5M3.1 592.9 L25.6 592.9M13.8 592.9 L11.7 590.8 L10.6 588.6 L10.6 585.4 L11.7 583.3 L13.8 581.1 L17 580 L19.2 580 L22.4 581.1 L24.5 583.3 L25.6 585.4 L25.6 588.6 L24.5 590.8 L22.4 592.9M17 573.6 L17 560.7 L14.9 560.7 L12.8 561.8 L11.7 562.9 L10.6 565 L10.6 568.2 L11.7 570.4 L13.8 572.5 L17 573.6 L19.2 573.6 L22.4 572.5 L24.5 570.4 L25.6 568.2 L25.6 565 L24.5 562.9 L22.4 560.7M10.6 553.2 L25.6 553.2M17 553.2 L13.8 552.2 L11.7 550 L10.6 547.9 L10.6 544.7M10.6 517.9 L11.7 520 L13.8 522.1 L17 523.2 L19.2 523.2 L22.4 522.1 L24.5 520 L25.6 517.9 L25.6 514.6 L24.5 512.5 L22.4 510.4 L19.2 509.3 L17 509.3 L13.8 510.4 L11.7 512.5 L10.6 514.6 L10.6 517.9M3.1 495.3 L3.1 497.5 L4.2 499.6 L7.4 500.7 L25.6 500.7M10.6 503.9 L10.6 496.4M3.1 467.5 L25.6 467.5M3.1 475 L3.1 460M10.6 454.6 L25.6 454.6M17 454.6 L13.8 453.5 L11.7 451.4 L10.6 449.3 L10.6 446M10.6 436.4 L11.7 438.5 L13.8 440.7 L17 441.7 L19.2 441.7 L22.4 440.7 L24.5 438.5 L25.6 436.4 L25.6 433.2 L24.5 431 L22.4 428.9 L19.2 427.8 L17 427.8 L13.8 428.9 L11.7 431 L10.6 433.2 L10.6 436.4M3.1 419.2 L4.2 418.2 L3.1 417.1 L2.1 418.2 L3.1 419.2M10.6 418.2 L28.8 418.2 L32 419.2 L33.1 421.4 L33.1 423.5M10.6 397.8 L25.6 397.8M13.8 397.8 L11.7 399.9 L10.6 402.1 L10.6 405.3 L11.7 407.4 L13.8 409.6 L17 410.7 L19.2 410.7 L22.4 409.6 L24.5 407.4 L25.6 405.3 L25.6 402.1 L24.5 399.9 L22.4 397.8M10.6 389.2 L25.6 389.2M14.9 389.2 L11.7 386 L10.6 383.9 L10.6 380.6 L11.7 378.5 L14.9 377.4 L25.6 377.4M13.8 358.1 L11.7 359.2 L10.6 362.4 L10.6 365.6 L11.7 368.9 L13.8 369.9 L16 368.9 L17 366.7 L18.1 361.3 L19.2 359.2 L21.3 358.1 L22.4 358.1 L24.5 359.2 L25.6 362.4 L25.6 365.6 L24.5 368.9 L22.4 369.9M3.1 333.5 L25.6 333.5M13.8 333.5 L11.7 331.3 L10.6 329.2 L10.6 326 L11.7 323.8 L13.8 321.7 L17 320.6 L19.2 320.6 L22.4 321.7 L24.5 323.8 L25.6 326 L25.6 329.2 L24.5 331.3 L22.4 333.5M10.6 313.1 L25.6 313.1M17 313.1 L13.8 312 L11.7 309.9 L10.6 307.7 L10.6 304.5M3.1 300.2 L4.2 299.2 L3.1 298.1 L2.1 299.2 L3.1 300.2M10.6 299.2 L25.6 299.2M10.6 278.8 L27.7 278.8 L31 279.9 L32 280.9 L33.1 283.1 L33.1 286.3 L32 288.5M13.8 278.8 L11.7 280.9 L10.6 283.1 L10.6 286.3 L11.7 288.5 L13.8 290.6 L17 291.7 L19.2 291.7 L22.4 290.6 L24.5 288.5 L25.6 286.3 L25.6 283.1 L24.5 280.9 L22.4 278.8M3.1 270.2 L25.6 270.2M14.9 270.2 L11.7 267 L10.6 264.9 L10.6 261.7 L11.7 259.5 L14.9 258.4 L25.6 258.4M3.1 248.8 L21.3 248.8 L24.5 247.7 L25.6 245.6 L25.6 243.4M10.6 252 L10.6 244.5M17 238.1 L17 225.2 L14.9 225.2 L12.8 226.3 L11.7 227.3 L10.6 229.5 L10.6 232.7 L11.7 234.9 L13.8 237 L17 238.1 L19.2 238.1 L22.4 237 L24.5 234.9 L25.6 232.7 L25.6 229.5 L24.5 227.3 L22.4 225.2M10.6 217.7 L25.6 217.7M17 217.7 L13.8 216.6 L11.7 214.5 L10.6 212.3 L10.6 209.1M3.1 185.5 L21.3 185.5 L24.5 184.5 L25.6 182.3 L25.6 180.2M10.6 188.8 L10.6 181.3M3.1 173.7 L25.6 173.7M14.9 173.7 L11.7 170.5 L10.6 168.4 L10.6 165.2 L11.7 163 L14.9 162 L25.6 162M10.6 141.6 L25.6 141.6M13.8 141.6 L11.7 143.7 L10.6 145.9 L10.6 149.1 L11.7 151.2 L13.8 153.4 L17 154.5 L19.2 154.5 L22.4 153.4 L24.5 151.2 L25.6 149.1 L25.6 145.9 L24.5 143.7 L22.4 141.6M10.6 133 L25.6 133M14.9 133 L11.7 129.8 L10.6 127.7 L10.6 124.4 L11.7 122.3 L14.9 121.2 L25.6 121.2M3.1 95.5 L25.6 95.5M3.1 80.5 L25.6 80.5M13.8 95.5 L13.8 80.5" fill="none" stroke="#000" stroke-width="2.0" stroke-linecap="round" stroke-linejoin="round"/>
<path d="M139.5 42.1 L139.5 57.6M139.5 57.6 L148.6 57.6M159.3 42.1 L151.7 52.4 L163.1 52.4M159.3 42.1 L159.3 57.6M185.1 39.2 L183.6 40.6 L182 42.9 L180.5 45.8 L179.8 49.5 L179.8 52.4 L180.5 56.1 L182 59.1 L183.6 61.3 L185.1 62.8M190.4 42.1 L190.4 57.6M190.4 49.5 L191.9 48 L193.4 47.3 L195.7 47.3 L197.2 48 L198.7 49.5 L199.5 51.7 L199.5 53.2 L198.7 55.4 L197.2 56.9 L195.7 57.6 L193.4 57.6 L191.9 56.9 L190.4 55.4M204.1 42.1 L204.8 42.9 L205.6 42.1 L204.8 41.4 L204.1 42.1M204.8 47.3 L204.8 57.6M219.2 47.3 L219.2 57.6M219.2 49.5 L217.7 48 L216.2 47.3 L213.9 47.3 L212.4 48 L210.9 49.5 L210.1 51.7 L210.1 53.2 L210.9 55.4 L212.4 56.9 L213.9 57.6 L216.2 57.6 L217.7 56.9 L219.2 55.4M232.9 49.5 L232.1 48 L229.9 47.3 L227.6 47.3 L225.3 48 L224.5 49.5 L225.3 51 L226.8 51.7 L230.6 52.4 L232.1 53.2 L232.9 54.7 L232.9 55.4 L232.1 56.9 L229.9 57.6 L227.6 57.6 L225.3 56.9 L224.5 55.4M238.2 51 L251.9 51M266.3 49.5 L264.8 48 L263.3 47.3 L261 47.3 L259.5 48 L257.9 49.5 L257.2 51.7 L257.2 53.2 L257.9 55.4 L259.5 56.9 L261 57.6 L263.3 57.6 L264.8 56.9 L266.3 55.4M274.6 47.3 L273.1 48 L271.6 49.5 L270.8 51.7 L270.8 53.2 L271.6 55.4 L273.1 56.9 L274.6 57.6 L276.9 57.6 L278.4 56.9 L280 55.4 L280.7 53.2 L280.7 51.7 L280 49.5 L278.4 48 L276.9 47.3 L274.6 47.3M286 47.3 L286 57.6M286 51.7 L286.8 49.5 L288.3 48 L289.8 47.3 L292.1 47.3M295.9 47.3 L295.9 57.6M295.9 51.7 L296.6 49.5 L298.2 48 L299.7 47.3 L302 47.3M305 51.7 L314.1 51.7 L314.1 50.2 L313.3 48.8 L312.6 48 L311.1 47.3 L308.8 47.3 L307.3 48 L305.8 49.5 L305 51.7 L305 53.2 L305.8 55.4 L307.3 56.9 L308.8 57.6 L311.1 57.6 L312.6 56.9 L314.1 55.4M327.8 49.5 L326.2 48 L324.7 47.3 L322.5 47.3 L320.9 48 L319.4 49.5 L318.7 51.7 L318.7 53.2 L319.4 55.4 L320.9 56.9 L322.5 57.6 L324.7 57.6 L326.2 56.9 L327.8 55.4M333.8 42.1 L333.8 54.7 L334.6 56.9 L336.1 57.6 L337.6 57.6M331.6 47.3 L336.9 47.3M341.4 51.7 L350.5 51.7 L350.5 50.2 L349.8 48.8 L349 48 L347.5 47.3 L345.2 47.3 L343.7 48 L342.2 49.5 L341.4 51.7 L341.4 53.2 L342.2 55.4 L343.7 56.9 L345.2 57.6 L347.5 57.6 L349 56.9 L350.5 55.4M364.2 42.1 L364.2 57.6M364.2 49.5 L362.7 48 L361.2 47.3 L358.9 47.3 L357.4 48 L355.9 49.5 L355.1 51.7 L355.1 53.2 L355.9 55.4 L357.4 56.9 L358.9 57.6 L361.2 57.6 L362.7 56.9 L364.2 55.4M381.7 47.3 L384.7 57.6M387.7 47.3 L384.7 57.6M387.7 47.3 L390.8 57.6M393.8 47.3 L390.8 57.6M398.4 42.1 L399.1 42.9 L399.9 42.1 L399.1 41.4 L398.4 42.1M399.1 47.3 L399.1 57.6M405.9 42.1 L405.9 54.7 L406.7 56.9 L408.2 57.6 L409.7 57.6M403.7 47.3 L409 47.3M414.3 42.1 L414.3 57.6M414.3 50.2 L416.6 48 L418.1 47.3 L420.4 47.3 L421.9 48 L422.6 50.2 L422.6 57.6M442.4 45.1 L443.9 44.3 L446.2 42.1 L446.2 57.6M483.4 47.3 L483.4 54.7 L484.1 56.9 L485.6 57.6 L487.9 57.6 L489.4 56.9 L491.7 54.7M491.7 47.3 L491.7 57.6M497.8 47.3 L497.8 57.6M497.8 50.2 L500.1 48 L501.6 47.3 L503.9 47.3 L505.4 48 L506.1 50.2 L506.1 57.6M520.6 49.5 L519 48 L517.5 47.3 L515.2 47.3 L513.7 48 L512.2 49.5 L511.4 51.7 L511.4 53.2 L512.2 55.4 L513.7 56.9 L515.2 57.6 L517.5 57.6 L519 56.9 L520.6 55.4M525.1 51.7 L534.2 51.7 L534.2 50.2 L533.5 48.8 L532.7 48 L531.2 47.3 L528.9 47.3 L527.4 48 L525.9 49.5 L525.1 51.7 L525.1 53.2 L525.9 55.4 L527.4 56.9 L528.9 57.6 L531.2 57.6 L532.7 56.9 L534.2 55.4M539.5 47.3 L539.5 57.6M539.5 51.7 L540.3 49.5 L541.8 48 L543.3 47.3 L545.6 47.3M550.2 42.1 L550.2 54.7 L550.9 56.9 L552.4 57.6 L554 57.6M547.9 47.3 L553.2 47.3M566.9 47.3 L566.9 57.6M566.9 49.5 L565.3 48 L563.8 47.3 L561.5 47.3 L560 48 L558.5 49.5 L557.7 51.7 L557.7 53.2 L558.5 55.4 L560 56.9 L561.5 57.6 L563.8 57.6 L565.3 56.9 L566.9 55.4M572.2 42.1 L572.9 42.9 L573.7 42.1 L572.9 41.4 L572.2 42.1M572.9 47.3 L572.9 57.6M579 47.3 L579 57.6M579 50.2 L581.3 48 L582.8 47.3 L585.1 47.3 L586.6 48 L587.3 50.2 L587.3 57.6M594.2 42.1 L594.2 54.7 L594.9 56.9 L596.5 57.6 L598 57.6M591.9 47.3 L597.2 47.3M601 47.3 L605.6 57.6M610.1 47.3 L605.6 57.6 L604 60.5 L602.5 62 L601 62.8 L600.2 62.8M613.9 39.2 L615.4 40.6 L616.9 42.9 L618.5 45.8 L619.2 49.5 L619.2 52.4 L618.5 56.1 L616.9 59.1 L615.4 61.3 L613.9 62.8" fill="none" stroke="#000" stroke-width="1.4" stroke-linecap="round" stroke-linejoin="round"/>
<g fill="none" stroke="#000" stroke-linecap="round"><ellipse cx="0" cy="0" rx="4.7" ry="5.25" transform="translate(459.2 52.4) skewX(-11)" stroke-width="1.7"/><path d="M459.6 46.7 L466.6 46.7" stroke-width="1.5"/></g>
<path d="M139.5 79.6 L139.5 95.1M139.5 95.1 L148.6 95.1M159.3 79.6 L151.7 89.9 L163.1 89.9M159.3 79.6 L159.3 95.1M185.1 76.7 L183.6 78.1 L182 80.4 L180.5 83.3 L179.8 87 L179.8 89.9 L180.5 93.6 L182 96.6 L183.6 98.8 L185.1 100.3M190.4 79.6 L190.4 95.1M190.4 79.6 L196.5 95.1M202.5 79.6 L196.5 95.1M202.5 79.6 L202.5 95.1M208.6 79.6 L208.6 95.1M208.6 79.6 L215.4 79.6 L217.7 80.4 L218.5 81.1 L219.2 82.6 L219.2 84.8 L218.5 86.3 L217.7 87 L215.4 87.7 L208.6 87.7M235.2 83.3 L234.4 81.8 L232.9 80.4 L231.4 79.6 L228.3 79.6 L226.8 80.4 L225.3 81.8 L224.5 83.3 L223.8 85.5 L223.8 89.2 L224.5 91.4 L225.3 92.9 L226.8 94.4 L228.3 95.1 L231.4 95.1 L232.9 94.4 L234.4 92.9 L235.2 91.4M239.7 76.7 L241.2 78.1 L242.8 80.4 L244.3 83.3 L245 87 L245 89.9 L244.3 93.6 L242.8 96.6 L241.2 98.8 L239.7 100.3" fill="none" stroke="#00f" stroke-width="1.4" stroke-linecap="round" stroke-linejoin="round"/>
<path d="M139.5 117.1 L139.5 132.6M139.5 132.6 L148.6 132.6M159.3 117.1 L151.7 127.4 L163.1 127.4M159.3 117.1 L159.3 132.6M185.1 114.2 L183.6 115.6 L182 117.9 L180.5 120.8 L179.8 124.5 L179.8 127.4 L180.5 131.1 L182 134.1 L183.6 136.3 L185.1 137.8M201 120.8 L200.3 119.3 L198.7 117.9 L197.2 117.1 L194.2 117.1 L192.7 117.9 L191.1 119.3 L190.4 120.8 L189.6 123 L189.6 126.7 L190.4 128.9 L191.1 130.4 L192.7 131.9 L194.2 132.6 L197.2 132.6 L198.7 131.9 L200.3 130.4 L201 128.9M216.2 119.3 L214.7 117.9 L212.4 117.1 L209.4 117.1 L207.1 117.9 L205.6 119.3 L205.6 120.8 L206.3 122.3 L207.1 123 L208.6 123.8 L213.2 125.2 L214.7 126 L215.4 126.7 L216.2 128.2 L216.2 130.4 L214.7 131.9 L212.4 132.6 L209.4 132.6 L207.1 131.9 L205.6 130.4M231.4 119.3 L229.9 117.9 L227.6 117.1 L224.5 117.1 L222.3 117.9 L220.7 119.3 L220.7 120.8 L221.5 122.3 L222.3 123 L223.8 123.8 L228.3 125.2 L229.9 126 L230.6 126.7 L231.4 128.2 L231.4 130.4 L229.9 131.9 L227.6 132.6 L224.5 132.6 L222.3 131.9 L220.7 130.4M238.2 120.1 L239.7 119.3 L242 117.1 L242 132.6M264 114.2 L250.3 137.8M279.2 120.8 L278.4 119.3 L276.9 117.9 L275.4 117.1 L272.4 117.1 L270.8 117.9 L269.3 119.3 L268.6 120.8 L267.8 123 L267.8 126.7 L268.6 128.9 L269.3 130.4 L270.8 131.9 L272.4 132.6 L275.4 132.6 L276.9 131.9 L278.4 130.4 L279.2 128.9M294.4 119.3 L292.9 117.9 L290.6 117.1 L287.5 117.1 L285.3 117.9 L283.7 119.3 L283.7 120.8 L284.5 122.3 L285.3 123 L286.8 123.8 L291.3 125.2 L292.9 126 L293.6 126.7 L294.4 128.2 L294.4 130.4 L292.9 131.9 L290.6 132.6 L287.5 132.6 L285.3 131.9 L283.7 130.4M309.6 119.3 L308 117.9 L305.8 117.1 L302.7 117.1 L300.4 117.9 L298.9 119.3 L298.9 120.8 L299.7 122.3 L300.4 123 L302 123.8 L306.5 125.2 L308 126 L308.8 126.7 L309.6 128.2 L309.6 130.4 L308 131.9 L305.8 132.6 L302.7 132.6 L300.4 131.9 L298.9 130.4M314.9 120.8 L314.9 120.1 L315.6 118.6 L316.4 117.9 L317.9 117.1 L320.9 117.1 L322.5 117.9 L323.2 118.6 L324 120.1 L324 121.5 L323.2 123 L321.7 125.2 L314.1 132.6 L324.7 132.6M329.3 114.2 L330.8 115.6 L332.3 117.9 L333.8 120.8 L334.6 124.5 L334.6 127.4 L333.8 131.1 L332.3 134.1 L330.8 136.3 L329.3 137.8" fill="none" stroke="#f00" stroke-width="1.4" stroke-linecap="round" stroke-linejoin="round"/>
<path d="M395.4 548.9 L397 548.1 L399.4 545.8 L399.4 562.1" fill="none" stroke="#f00" stroke-width="1.3" stroke-linecap="round" stroke-linejoin="round"/>
</svg></body></html>
